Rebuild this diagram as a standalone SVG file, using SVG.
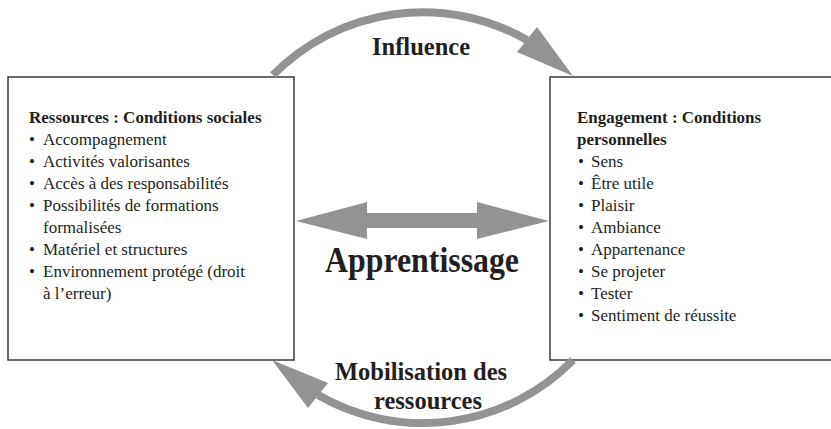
<svg xmlns="http://www.w3.org/2000/svg" width="831" height="429" viewBox="0 0 831 429">
<style>
.box{fill:#fff;stroke:#3a3a3a;stroke-width:1.5}
.t{font-family:"Liberation Serif","Times New Roman",serif;fill:#231f20}
.body{font-size:17px}
.head{font-size:17px;font-weight:bold}
.lbl{font-size:24.5px;font-weight:bold;text-anchor:middle}
.arc{fill:none;stroke:#939393;stroke-width:8}
.ah{fill:#939393}
</style>
<rect width="831" height="429" fill="#fff"/>
<g id="ressources">
<rect class="box" x="8" y="77" width="286" height="283"/>
<text class="t head" x="29" y="123">Ressources : Conditions sociales</text>
<g class="t body">
<text x="29" y="145">•</text><text x="43" y="145">Accompagnement</text>
<text x="29" y="167">•</text><text x="43" y="167">Activités valorisantes</text>
<text x="29" y="189">•</text><text x="43" y="189">Accès à des responsabilités</text>
<text x="29" y="211">•</text><text x="43" y="211">Possibilités de formations</text>
<text x="43" y="233">formalisées</text>
<text x="29" y="255">•</text><text x="43" y="255">Matériel et structures</text>
<text x="29" y="277">•</text><text x="43" y="277">Environnement protégé (droit</text>
<text x="43" y="299">à l’erreur)</text>
</g>
</g>
<g id="engagement">
<rect class="box" x="550" y="77" width="285" height="283"/>
<text class="t head" x="577" y="123">Engagement : Conditions</text>
<text class="t head" x="577" y="145">personnelles</text>
<g class="t body">
<text x="578" y="167">•</text><text x="591" y="167">Sens</text>
<text x="578" y="189">•</text><text x="591" y="189">Être utile</text>
<text x="578" y="211">•</text><text x="591" y="211">Plaisir</text>
<text x="578" y="233">•</text><text x="591" y="233">Ambiance</text>
<text x="578" y="255">•</text><text x="591" y="255">Appartenance</text>
<text x="578" y="277">•</text><text x="591" y="277">Se projeter</text>
<text x="578" y="299">•</text><text x="591" y="299">Tester</text>
<text x="578" y="321">•</text><text x="591" y="321">Sentiment de réussite</text>
</g>
</g>
<g id="connectors">
<path class="arc" d="M273 75 A210 210 0 0 1 527 40"/>
<polygon class="ah" points="517,52 537,27 573,76"/>
<path class="arc" d="M573 360 A210 210 0 0 1 318 395"/>
<polygon class="ah" points="328,383 308,408 272,360"/>
<polygon class="ah" points="296,221 367,202 367,213 477,213 477,202 549,221 477,239 477,228 367,228 367,239"/>
</g>
<g id="labels">
<text class="t lbl" x="421" y="55">Influence</text>
<text class="t" x="422" y="272" font-size="36" font-weight="bold" text-anchor="middle" textLength="194" lengthAdjust="spacingAndGlyphs">Apprentissage</text>
<text class="t lbl" x="421" y="380">Mobilisation des</text>
<text class="t lbl" x="428" y="409">ressources</text>
</g>
</svg>
